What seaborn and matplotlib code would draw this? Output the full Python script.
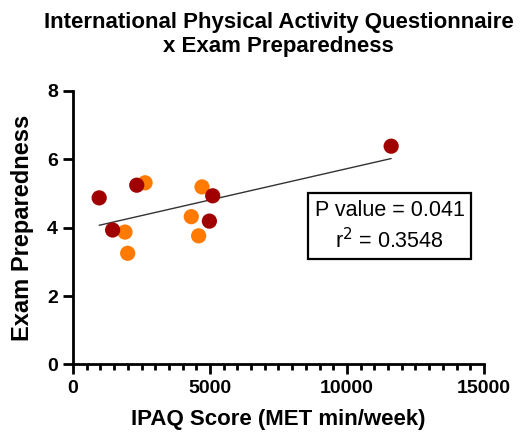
import numpy as np
import pandas as pd
import matplotlib
matplotlib.use("Agg")
import matplotlib.pyplot as plt
from matplotlib.ticker import MultipleLocator
import seaborn as sns

# IPAQ score (MET min/week) and exam preparedness, two groups of participants
group_a_ipaq = [953, 1444, 2325, 5098, 4977, 11614]
group_a_prep = [4.87, 3.93, 5.24, 4.93, 4.19, 6.38]
group_b_ipaq = [2629, 1896, 1994, 4316, 4707, 4585]
group_b_prep = [5.31, 3.87, 3.25, 4.32, 5.19, 3.76]

group_names = ["B", "A"]
group_colors = {"A": "#A00000", "B": "#FF7A00"}

p_value_text = "P value = 0.041"
r2_text = "r$^2$ = 0.3548"

df = pd.DataFrame({
    "ipaq": group_b_ipaq + group_a_ipaq,
    "prep": group_b_prep + group_a_prep,
    "group": ["B"] * len(group_b_ipaq) + ["A"] * len(group_a_ipaq),
})

sns.set_theme(style="ticks")
plt.rcParams["font.family"] = ["Liberation Sans", "DejaVu Sans"]
plt.rcParams["text.color"] = "black"
plt.rcParams["axes.labelcolor"] = "black"

fig = plt.figure(figsize=(5.22, 4.45), dpi=100)
ax = fig.add_axes([0.140, 0.181, 0.787, 0.615])

sns.regplot(data=df, x="ipaq", y="prep", scatter=False, ci=None,
            color="#333333", line_kws={"linewidth": 1.0}, ax=ax)
sns.scatterplot(data=df, x="ipaq", y="prep", hue="group", hue_order=group_names,
                palette=group_colors, s=120, linewidth=0, legend=False,
                zorder=3, ax=ax)

ax.set_xlim(0, 15000)
ax.set_ylim(0, 8)
ax.xaxis.set_major_locator(MultipleLocator(5000))
ax.xaxis.set_minor_locator(MultipleLocator(500))
ax.yaxis.set_major_locator(MultipleLocator(2))

for side in ["top", "right"]:
    ax.spines[side].set_visible(False)
for side in ["left", "bottom"]:
    ax.spines[side].set_linewidth(2.0)
    ax.spines[side].set_color("black")

ax.tick_params(axis="both", which="major", length=7, width=2.0,
               colors="black", labelsize=14, pad=4)
ax.tick_params(axis="x", which="minor", length=4, width=2.0, colors="black")
for lbl in ax.get_xticklabels() + ax.get_yticklabels():
    lbl.set_fontweight("bold")

ax.set_xlabel("IPAQ Score (MET min/week)", fontsize=16, fontweight="bold",
              labelpad=9, color="black")
ax.set_ylabel("Exam Preparedness", fontsize=17, fontweight="bold",
              labelpad=9, color="black")

fig.text(0.5335, 0.922, "International Physical Activity Questionnaire\nx Exam Preparedness",
         ha="center", va="center", fontsize=16, fontweight="bold",
         linespacing=1.2, color="black")

ax.text(0.771, 0.505, p_value_text + "\n" + r2_text, transform=ax.transAxes,
        ha="center", va="center", fontsize=15.5, linespacing=1.35, color="black",
        bbox=dict(boxstyle="square,pad=0.3", facecolor="white",
                  edgecolor="black", linewidth=1.6))

fig.savefig("out.png", dpi=100)
